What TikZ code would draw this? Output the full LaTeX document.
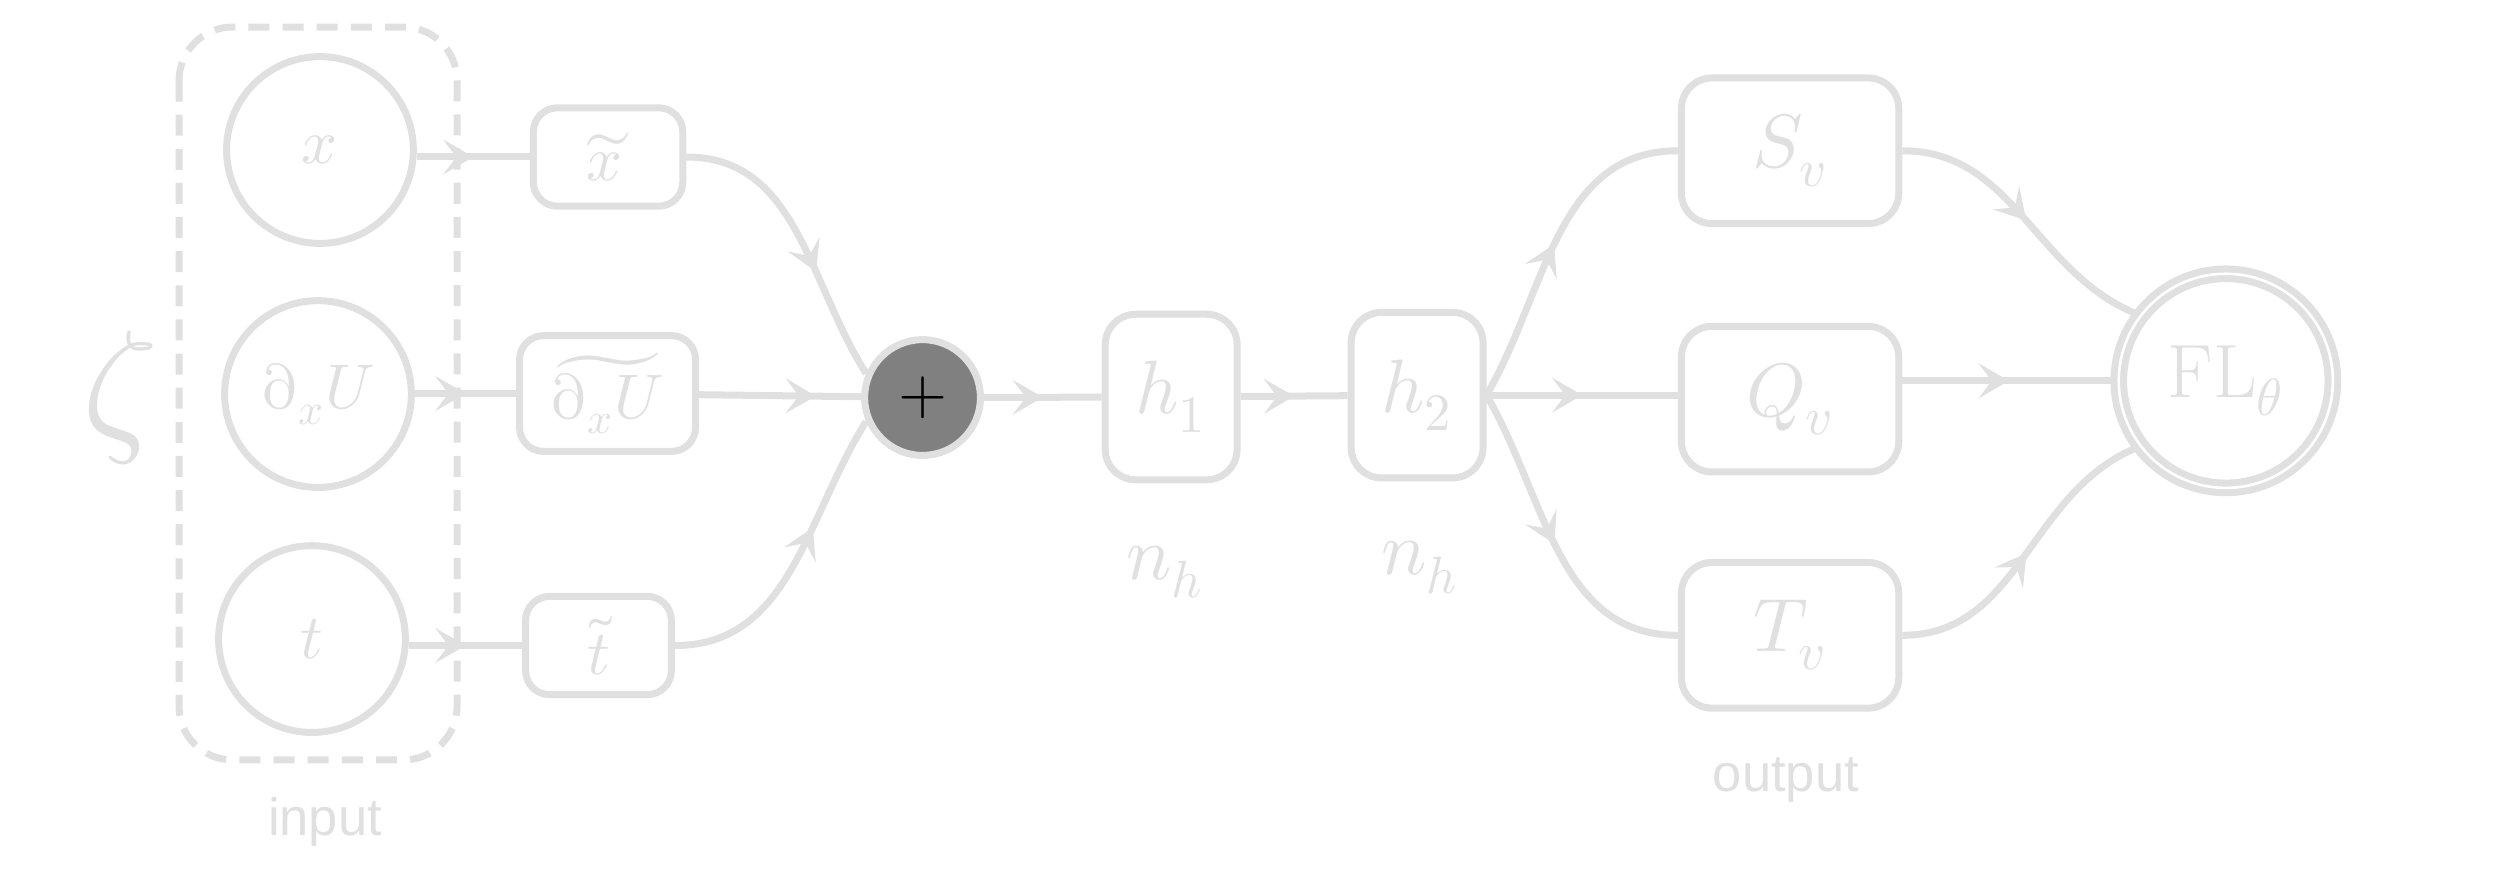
\documentclass[tikz,border=0pt]{standalone}
\usepackage[partial=upright]{unicode-math}
\setmathfont{Latin Modern Math}
\newfontfamily\labelfont{Liberation Sans}
\usetikzlibrary{arrows.meta,decorations.markings}
\definecolor{linegray}{gray}{0.88}

\tikzset{
	flow/.style={color=linegray, line width=1.6pt, postaction={decorate},
		decoration={markings, mark=at position #1 with {\arrow{Stealth[length=6.9pt,width=8pt,inset=3pt]}}}},
	flow/.default=0.5,
	invar/.style={circle, draw=linegray, line width=1.6pt, minimum size=1.5cm, inner sep=0pt, text=linegray, font=\Large},
	featbox/.style={rectangle, rounded corners=5.5pt, draw=linegray, line width=1.6pt, inner sep=0pt, minimum height=0.79cm, text=linegray, font=\Large},
	hidbox/.style={rectangle, rounded corners=7pt, draw=linegray, line width=1.6pt, inner sep=0pt, minimum width=1.06cm, minimum height=1.33cm, text=linegray, font=\LARGE},
	outbox/.style={rectangle, rounded corners=7pt, draw=linegray, line width=1.6pt, inner sep=0pt, minimum width=1.746cm, minimum height=1.17cm, text=linegray, font=\LARGE},
	sumnode/.style={circle, fill=gray, draw=linegray, line width=1.6pt, minimum size=0.93cm, inner sep=0pt, text=black, font=\Large},
	lossnode/.style={circle, draw=linegray, line width=1.6pt, double, double distance=0.6pt, minimum size=1.72cm, inner sep=0pt, text=linegray, font=\LARGE},
	tagtext/.style={text=linegray, font=\labelfont\large, anchor=base, inner sep=0pt},
}

\begin{document}
\begin{tikzpicture}
	\useasboundingbox (0,0) rectangle (20.024,-7.141);

	% input variables
	\node[invar] (cx) at (2.570,-1.205) {$x$};
	\node[invar] (cdu) at (2.554,-3.165) {$\partial_x U$};
	\node[invar] (ct) at (2.506,-5.133) {$t$};
	\draw[linegray, line width=1.6pt, dash pattern=on 4.8pt off 3pt, rounded corners=0.43cm] (1.438,-0.217) rectangle (3.671,-6.104);
	\node[tagtext] (inlabel) at (2.610,-6.707) {input};
	\node[text=linegray, font=\fontsize{34}{40}\selectfont, inner sep=0pt] (zeta) at (0.964,-3.197) {$\zeta$};

	% normalised features
	\node[featbox, minimum width=1.20cm] (xt) at (4.884,-1.261) {$\widetilde{x\mkern2mu}$};
	\node[featbox, minimum width=1.414cm, minimum height=0.93cm] (dut) at (4.880,-3.161) {$\widetilde{\partial_x U}$};
	\node[featbox, minimum width=1.171cm] (tt) at (4.807,-5.185) {$\widetilde{t}$};
	\draw[flow] (xt.west -| cx.east) -- (xt.west);
	\draw[flow] (dut.west -| cdu.east) -- (dut.west);
	\draw[flow] (tt.west -| ct.east) -- (tt.west);

	% sum and hidden layers
	\node[sumnode] (plus) at (7.410,-3.193) {$+$};
	\draw[flow=0.62] (xt) to[out=0,in=122] (plus.157);
	\draw[flow=0.72] (dut) -- (plus);
	\draw[flow=0.62] (tt) to[out=0,in=-122] (plus.-157);

	\node[hidbox] (h1) at (9.407,-3.189) {$h_1$};
	\node[hidbox] (h2) at (11.382,-3.174) {$h_2$};
	\node[text=linegray, font=\LARGE, anchor=base, inner sep=0pt] (nh1) at (9.357,-4.651) {$n_h$};
	\node[text=linegray, font=\LARGE, anchor=base, inner sep=0pt] (nh2) at (11.406,-4.618) {$n_h$};
	\draw[flow] (plus) -- (h1);
	\draw[flow] (h1) -- (h2);

	% outputs
	\node[outbox] (sv) at (14.378,-1.211) {$S_v$};
	\node[outbox] (qv) at (14.378,-3.206) {$Q_v$};
	\node[outbox] (tv) at (14.378,-5.103) {$T_v$};
	\node[tagtext] (outlabel) at (14.345,-6.359) {output};
	\draw[flow] (h2.east) to[out=60,in=180] (sv.west);
	\draw[flow] (h2.east) -- (h2.east -| qv.west);
	\draw[flow] (h2.east) to[out=-60,in=180] (tv.west);

	% loss
	\node[lossnode] (fl) at (17.878,-3.059) {$\mathrm{FL}_\theta$};
	\draw[flow] (sv.east) to[out=0,in=158] (fl.143);
	\draw[flow] (fl.west -| qv.east) -- (fl.west);
	\draw[flow] (tv.east) to[out=0,in=202] (fl.217);
\end{tikzpicture}
\end{document}
